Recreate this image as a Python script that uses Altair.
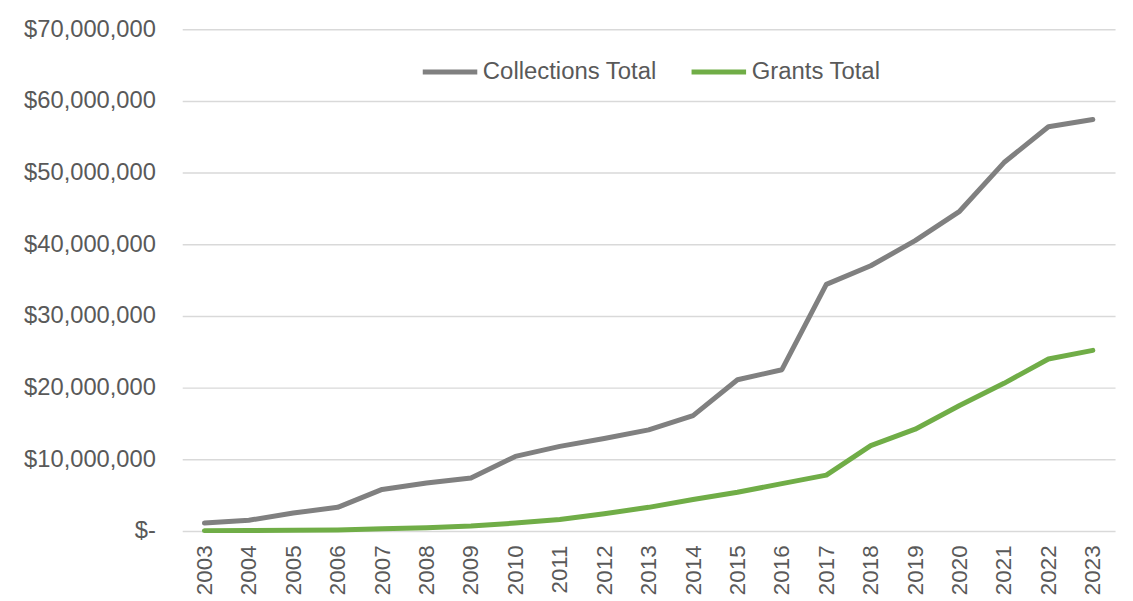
import altair as alt
import pandas as pd

years = [str(y) for y in range(2003, 2024)]
collections = [1.1e6, 1.5e6, 2.5e6, 3.3e6, 5.8e6, 6.7e6, 7.4e6, 10.4e6, 11.8e6, 12.9e6,
               14.1e6, 16.1e6, 21.1e6, 22.5e6, 34.4e6, 37.0e6, 40.5e6, 44.6e6, 51.4e6,
               56.4e6, 57.4e6]
grants = [0.05e6, 0.08e6, 0.1e6, 0.15e6, 0.3e6, 0.45e6, 0.7e6, 1.1e6, 1.6e6, 2.4e6,
          3.3e6, 4.4e6, 5.4e6, 6.6e6, 7.8e6, 11.9e6, 14.2e6, 17.5e6, 20.6e6, 24.0e6, 25.2e6]
series = ["Collections Total", "Grants Total"]
colors = ["#808080", "#70AD47"]

rows = []
for i, y in enumerate(years):
    rows.append({"Year": y, "Series": series[0], "Value": collections[i]})
    rows.append({"Year": y, "Series": series[1], "Value": grants[i]})
df = pd.DataFrame(rows)

font = "Liberation Sans"

chart = alt.Chart(df).mark_line(strokeWidth=5, strokeCap="round", strokeJoin="round").encode(
    x=alt.X("Year:O", sort=years,
            scale=alt.Scale(type="point", padding=0.5),
            axis=alt.Axis(title=None, labelAngle=-90, labelAlign="right", labelBaseline="middle",
                          labelFontSize=22.5, labelColor="#595959", labelFont=font,
                          labelPadding=14, ticks=False, domain=False, grid=False)),
    y=alt.Y("Value:Q", scale=alt.Scale(domain=[0, 70e6], nice=False),
            axis=alt.Axis(title=None, values=[i * 10e6 for i in range(8)],
                          labelExpr="datum.value == 0 ? '$-' : '$' + format(datum.value, ',.0f')",
                          labelFontSize=23.8, labelColor="#595959", labelFont=font,
                          labelPadding=27, ticks=False, domain=False, labelLimit=300,
                          gridColor="#d9d9d9", gridWidth=1.5)),
    color=alt.Color("Series:N", scale=alt.Scale(domain=series, range=colors),
                    legend=alt.Legend(title=None, orient="none", legendX=239, legendY=13,
                                      direction="horizontal", symbolType="stroke",
                                      symbolStrokeWidth=5, symbolSize=3000,
                                      labelFontSize=24, labelColor="#595959", labelFont=font,
                                      labelOffset=3, columnPadding=24, labelLimit=400)),
).properties(
    width=937, height=504,
    padding={"left": 175, "top": 20, "right": 10, "bottom": 70},
    autosize=alt.AutoSizeParams(type="none"),
).configure_view(stroke=None)

chart.save("out.html", embed_options={"renderer": "svg", "actions": False})
